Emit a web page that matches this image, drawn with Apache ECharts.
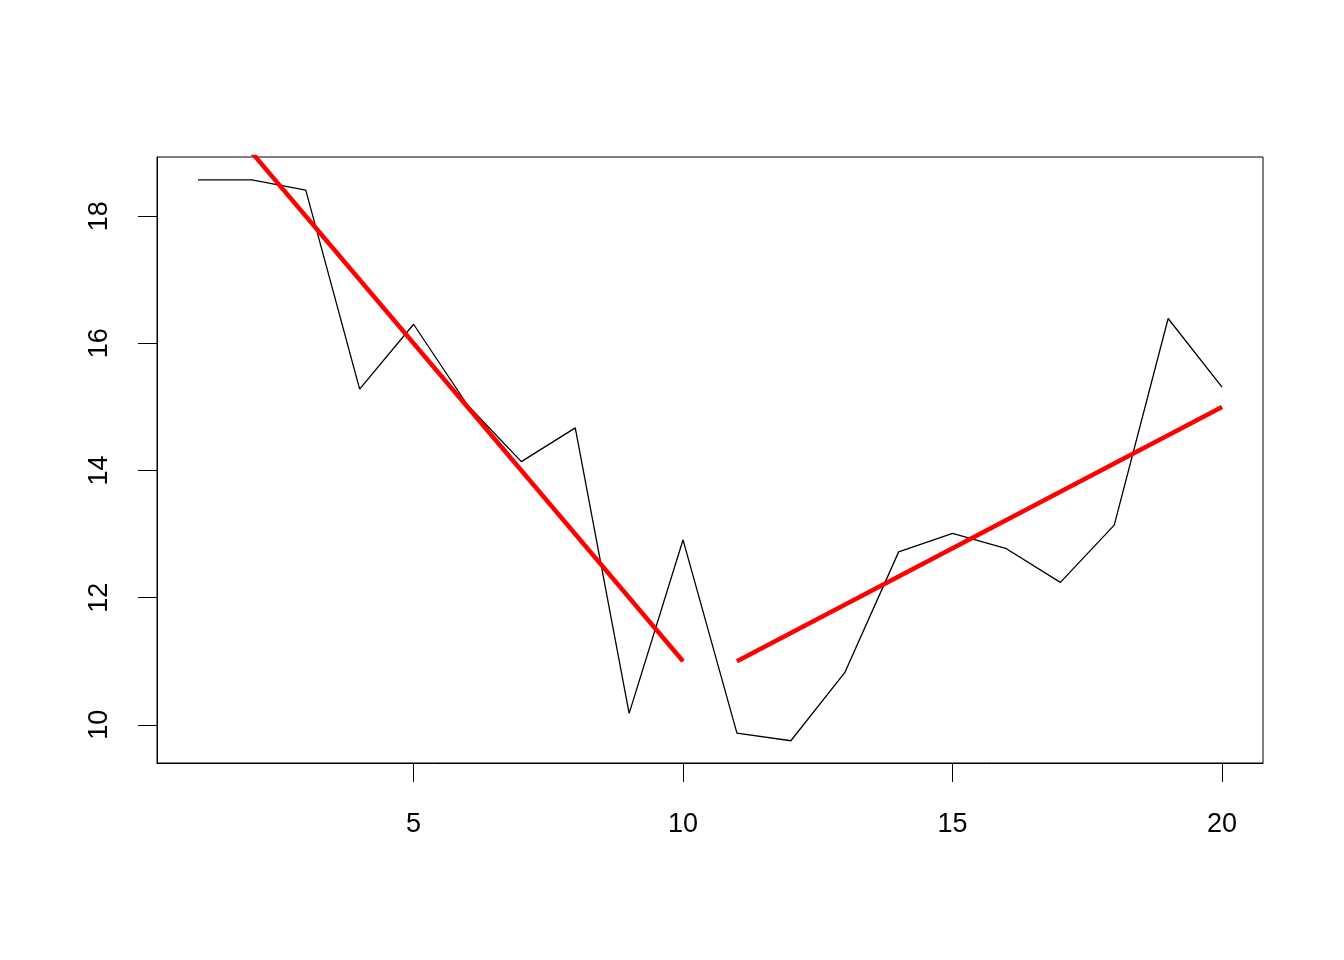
<!DOCTYPE html>
<html>
<head>
<meta charset="utf-8">
<script src="https://cdn.jsdelivr.net/npm/echarts@6/dist/echarts.min.js"></script>
<style>html,body{margin:0;padding:0;background:#fff;}#c{width:1344px;height:960px;}</style>
</head>
<body>
<div id="c"></div>
<script>
var xValues = [1,2,3,4,5,6,7,8,9,10,11,12,13,14,15,16,17,18,19,20];
var yValues = [18.57,18.57,18.41,15.28,16.30,15.03,14.14,14.67,10.18,12.91,9.87,9.75,10.82,12.72,13.01,12.77,12.24,13.14,16.39,15.31];
var fit1 = [[1,20],[10,11]];
var fit2 = [[11,11],[20,15]];
var xTicks = [5,10,15,20];
var yTicks = [10,12,14,16,18];

var chart = echarts.init(document.getElementById('c'), null, {renderer:'canvas'});
var font = 'Liberation Sans, Arial, Helvetica, sans-serif';
chart.setOption({
  animation:false,
  backgroundColor:'#fff',
  grid:{left:157,right:81,top:157,bottom:197,show:true,borderColor:'#000',borderWidth:1,backgroundColor:'transparent'},
  xAxis:{type:'value',min:0.24,max:20.76,
    axisLine:{show:true,lineStyle:{color:'#000',width:1}},
    axisTick:{show:true,customValues:xTicks,length:19,lineStyle:{color:'#000',width:1}},
    axisLabel:{customValues:xTicks,color:'#000',fontSize:27,fontFamily:font,margin:48},
    splitLine:{show:false}},
  yAxis:{type:'value',min:9.40,max:18.93,
    axisLine:{show:true,lineStyle:{color:'#000',width:1}},
    axisTick:{show:true,customValues:yTicks,length:19,lineStyle:{color:'#000',width:1}},
    axisLabel:{customValues:yTicks,color:'#000',fontSize:27,fontFamily:font,rotate:90,margin:44},
    splitLine:{show:false}},
  series:[
    {type:'line',data:xValues.map(function(x,i){return [x,yValues[i]];}),showSymbol:false,symbol:'none',clip:true,
      lineStyle:{color:'#000',width:1.3}},
    {type:'line',data:fit1,symbol:'none',clip:true,lineStyle:{color:'#ff0000',width:4.5}},
    {type:'line',data:fit2,symbol:'none',clip:true,lineStyle:{color:'#ff0000',width:4.5}}
  ]
});
</script>
</body>
</html>
